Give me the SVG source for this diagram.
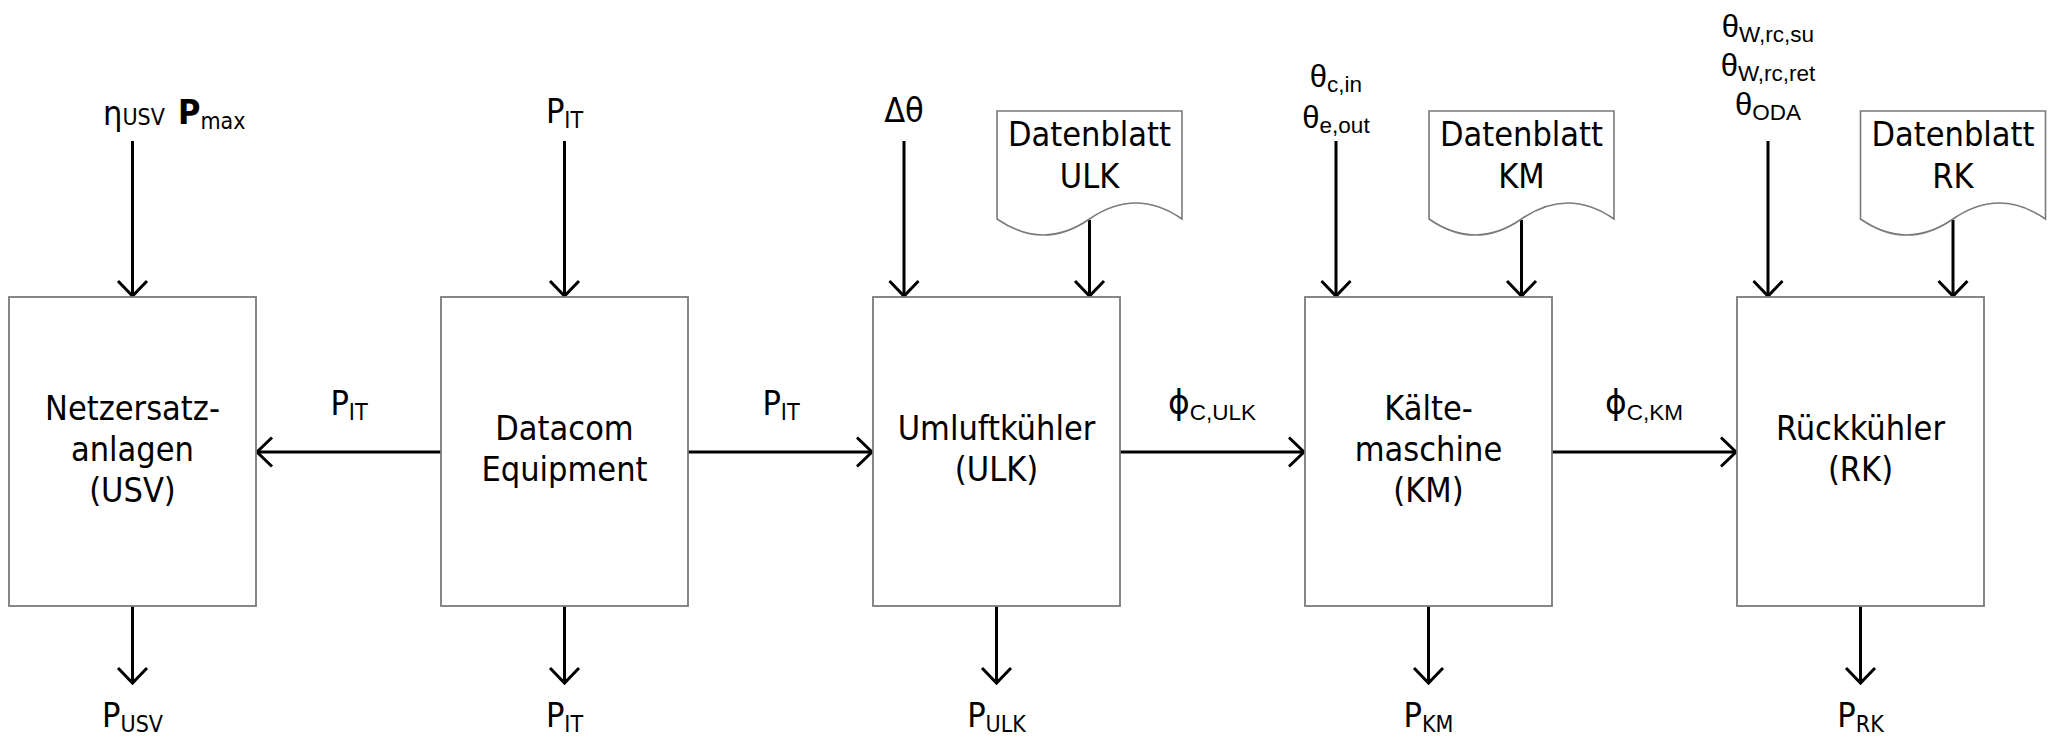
<svg xmlns="http://www.w3.org/2000/svg" width="2058" height="737" viewBox="0 0 2058 737">
  <style>
    .box { fill: #ffffff; stroke: #7a7a7a; stroke-width: 1.8; }
    .doc { fill: #ffffff; stroke: #7a7a7a; stroke-width: 1.6; }
    .wire { fill: none; stroke: #000000; stroke-width: 3; marker-end: url(#open); }
    .t { font-family: "DejaVu Sans Condensed", "DejaVu Sans", sans-serif; font-stretch: condensed; font-size: 34px; fill: #000; }
    .a { font-family: "Liberation Sans", Arial, sans-serif; font-size: 31px; fill: #000; }
    .c { text-anchor: middle; }
    .sub { font-size: 23px; }
    .asub { font-family: "Liberation Sans", Arial, sans-serif; font-size: 22.5px; }
    .phi { font-family: "DejaVu Sans", sans-serif; font-size: 33px; }
  </style>
  <defs>
    <marker id="open" markerUnits="userSpaceOnUse" markerWidth="40" markerHeight="40" refX="0" refY="0" viewBox="-20 -20 40 40" orient="auto" overflow="visible">
      <path d="M -15 -14.5 L 0 0 L -15 14.5" fill="none" stroke="#000" stroke-width="3"/>
    </marker>
  </defs>
  <rect width="2058" height="737" fill="#ffffff"/>

  <!-- connectors -->
  <g id="connectors">
    <!-- inputs from above -->
    <path class="wire" d="M 132.5 141 V 296"/>
    <path class="wire" d="M 564.5 141 V 296"/>
    <path class="wire" d="M 904 141 V 296"/>
    <path class="wire" d="M 1089.5 220 V 296"/>
    <path class="wire" d="M 1336 141 V 296"/>
    <path class="wire" d="M 1521.5 220 V 296"/>
    <path class="wire" d="M 1768 141 V 296"/>
    <path class="wire" d="M 1953 220 V 296"/>
    <!-- chain between blocks -->
    <path class="wire" d="M 441 452 H 257"/>
    <path class="wire" d="M 688 452 H 872"/>
    <path class="wire" d="M 1120 452 H 1304"/>
    <path class="wire" d="M 1552 452 H 1736"/>
    <!-- outputs below -->
    <path class="wire" d="M 132.5 606 V 683"/>
    <path class="wire" d="M 564.5 606 V 683"/>
    <path class="wire" d="M 996.5 606 V 683"/>
    <path class="wire" d="M 1428.5 606 V 683"/>
    <path class="wire" d="M 1860.5 606 V 683"/>
  </g>

  <!-- blocks -->
  <g id="usv">
    <rect class="box" x="9" y="297" width="247" height="309"/>
    <text class="t c" x="132.5" y="420">Netzersatz-</text>
    <text class="t c" x="132.5" y="461">anlagen</text>
    <text class="t c" x="132.5" y="502">(USV)</text>
  </g>
  <g id="datacom">
    <rect class="box" x="441" y="297" width="247" height="309"/>
    <text class="t c" x="564.5" y="440">Datacom</text>
    <text class="t c" x="564.5" y="481">Equipment</text>
  </g>
  <g id="ulk">
    <rect class="box" x="873" y="297" width="247" height="309"/>
    <text class="t c" x="996.5" y="440">Umluftkühler</text>
    <text class="t c" x="996.5" y="481">(ULK)</text>
  </g>
  <g id="km">
    <rect class="box" x="1305" y="297" width="247" height="309"/>
    <text class="t c" x="1428.5" y="420">Kälte-</text>
    <text class="t c" x="1428.5" y="461">maschine</text>
    <text class="t c" x="1428.5" y="502">(KM)</text>
  </g>
  <g id="rk">
    <rect class="box" x="1737" y="297" width="247" height="309"/>
    <text class="t c" x="1860.5" y="440">Rückkühler</text>
    <text class="t c" x="1860.5" y="481">(RK)</text>
  </g>

  <!-- data sheets -->
  <g id="datenblatt-ulk">
    <path class="doc" d="M 997 219 V 111 H 1182 V 219 Q 1135.75 187 1089.5 219 T 997 219 Z"/>
    <text class="t c" x="1089.5" y="146">Datenblatt</text>
    <text class="t c" x="1089.5" y="188">ULK</text>
  </g>
  <g id="datenblatt-km">
    <path class="doc" d="M 1429 219 V 111 H 1614 V 219 Q 1567.75 187 1521.5 219 T 1429 219 Z"/>
    <text class="t c" x="1521.5" y="146">Datenblatt</text>
    <text class="t c" x="1521.5" y="188">KM</text>
  </g>
  <g id="datenblatt-rk">
    <path class="doc" d="M 1860.5 219 V 111 H 2045.5 V 219 Q 1999.25 187 1953 219 T 1860.5 219 Z"/>
    <text class="t c" x="1953" y="146">Datenblatt</text>
    <text class="t c" x="1953" y="188">RK</text>
  </g>

  <!-- input labels -->
  <g id="labels-in">
    <text class="t" x="103" y="125">η<tspan class="sub">USV</tspan></text>
    <text class="t" x="178" y="124"><tspan font-weight="bold">P</tspan><tspan class="sub" dy="5">max</tspan></text>
    <text class="t c" x="564.5" y="123">P<tspan class="sub" dy="5">IT</tspan></text>
    <text class="t c" x="904" y="122">Δθ</text>
    <text class="a c" x="1336" y="87">θ<tspan class="asub" dy="5">c,in</tspan></text>
    <text class="a c" x="1336" y="128">θ<tspan class="asub" dy="5">e,out</tspan></text>
    <text class="a c" x="1768" y="37">θ<tspan class="asub" dy="5">W,rc,su</tspan></text>
    <text class="a c" x="1768" y="76">θ<tspan class="asub" dy="5">W,rc,ret</tspan></text>
    <text class="a c" x="1768" y="115">θ<tspan class="asub" dy="5">ODA</tspan></text>
  </g>

  <!-- flow labels -->
  <g id="labels-flow">
    <text class="t c" x="349" y="415">P<tspan class="sub" dy="5">IT</tspan></text>
    <text class="t c" x="781" y="415">P<tspan class="sub" dy="5">IT</tspan></text>
    <text class="phi c" x="1212" y="414">ϕ<tspan class="asub" dy="6">C,ULK</tspan></text>
    <text class="phi c" x="1644" y="414">ϕ<tspan class="asub" dy="6">C,KM</tspan></text>
  </g>

  <!-- output labels -->
  <g id="labels-out">
    <text class="t c" x="132.5" y="727">P<tspan class="sub" dy="5">USV</tspan></text>
    <text class="t c" x="564.5" y="727">P<tspan class="sub" dy="5">IT</tspan></text>
    <text class="t c" x="996.5" y="727">P<tspan class="sub" dy="5">ULK</tspan></text>
    <text class="t c" x="1428.5" y="727">P<tspan class="sub" dy="5">KM</tspan></text>
    <text class="t c" x="1860.5" y="727">P<tspan class="sub" dy="5">RK</tspan></text>
  </g>
</svg>
